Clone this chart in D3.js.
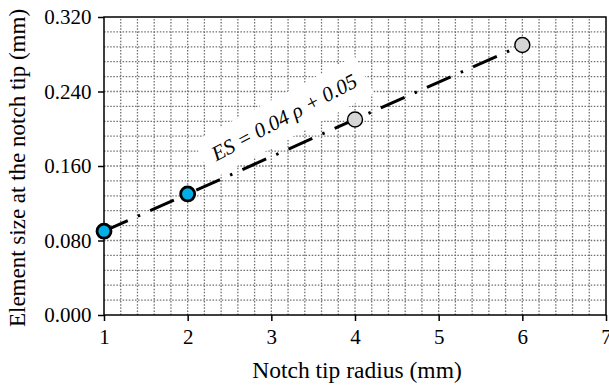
<!DOCTYPE html>
<html>
<head>
<meta charset="utf-8">
<script src="https://cdn.jsdelivr.net/npm/d3@7"></script>
<style>
  body { margin: 0; background: #fff; }
  svg { display: block; font-family: "Liberation Serif", "Times New Roman", serif; }
  svg text { font-family: "Liberation Serif", "Times New Roman", serif; }
</style>
</head>
<body>
<div id="chart"></div>
<script>
// data
const radius = [1, 2, 4, 6];
const elemSize = [0.090, 0.130, 0.210, 0.290];
const pointKind = ['blue', 'blue', 'grey', 'grey'];
const xTicks = [1, 2, 3, 4, 5, 6, 7];
const yTicks = [0, 0.08, 0.16, 0.24, 0.32];
const fitSlope = 0.04, fitIntercept = 0.05;
const fitRange = [1, 6];

const width = 609, height = 388;
const margin = { top: 17, right: 3, bottom: 73, left: 104 };

const svg = d3.select('#chart').append('svg')
  .attr('width', width)
  .attr('height', height);

const x = d3.scaleLinear().domain([1, 7]).range([margin.left, width - margin.right]);
const y = d3.scaleLinear().domain([0, 0.32]).range([height - margin.bottom, margin.top]);

// dotted grid, 5 divisions per major tick
const grid = svg.append('g')
  .attr('stroke', '#707070')
  .attr('stroke-width', 1.3)
  .attr('stroke-dasharray', '1.5,1.6');

grid.selectAll('line.vx')
  .data(d3.range(1, 35).map(i => 1 + i * 0.2).filter(v => v < 6.99))
  .enter().append('line')
  .attr('x1', d => x(d)).attr('x2', d => x(d))
  .attr('y1', y(0)).attr('y2', y(0.32));

grid.selectAll('line.hy')
  .data(d3.range(1, 20).map(i => i * 0.016))
  .enter().append('line')
  .attr('x1', x(1)).attr('x2', x(7))
  .attr('y1', d => y(d)).attr('y2', d => y(d));

// equation label with white box
const labelX = 284, labelY = 117, labelAngle = -28;
const label = svg.append('g')
  .attr('transform', `translate(${labelX},${labelY}) rotate(${labelAngle})`);
const txt = label.append('text')
  .attr('text-anchor', 'middle')
  .attr('dy', '0.35em')
  .style('font-style', 'italic')
  .style('font-size', '21px')
  .text('ES = 0.04 ρ + 0.05');
const bb = txt.node().getBBox();
label.insert('rect', 'text')
  .attr('x', bb.x - 10).attr('y', bb.y - 9)
  .attr('width', bb.width + 20).attr('height', bb.height + 18)
  .attr('fill', '#fff');

// fitted line
svg.append('line')
  .attr('x1', x(fitRange[0])).attr('y1', y(fitSlope * fitRange[0] + fitIntercept))
  .attr('x2', x(fitRange[1])).attr('y2', y(fitSlope * fitRange[1] + fitIntercept))
  .attr('stroke', '#000')
  .attr('stroke-width', 3)
  .attr('stroke-dasharray', '26,11,2.5,11');

// frame
svg.append('rect')
  .attr('x', x(1)).attr('y', y(0.32))
  .attr('width', x(7) - x(1)).attr('height', y(0) - y(0.32))
  .attr('fill', 'none')
  .attr('stroke', '#000')
  .attr('stroke-width', 1.5);

// axes
const xAxis = svg.append('g')
  .attr('transform', `translate(0,${y(0)})`)
  .call(d3.axisBottom(x).tickValues(xTicks).tickFormat(d3.format('d')).tickSize(6).tickSizeOuter(0));
const yAxis = svg.append('g')
  .attr('transform', `translate(${x(1)},0)`)
  .call(d3.axisLeft(y).tickValues(yTicks).tickFormat(d3.format('.3f')).tickSize(6).tickSizeOuter(0));

[xAxis, yAxis].forEach(a => {
  a.attr('font-family', null).attr('font-size', null);
  a.select('.domain').remove();
  a.selectAll('.tick line').attr('stroke', '#000').attr('stroke-width', 1.5);
  a.selectAll('.tick text')
    .attr('fill', '#000')
    .style('font-size', '21px');
});
xAxis.selectAll('.tick text').attr('y', 14).attr('dy', '0.71em');
yAxis.selectAll('.tick text').attr('x', -12.5);

// points
svg.append('g').selectAll('circle')
  .data(radius.map((r, i) => ({ r, v: elemSize[i], k: pointKind[i] })))
  .enter().append('circle')
  .attr('cx', d => x(d.r))
  .attr('cy', d => y(d.v))
  .attr('r', d => d.k === 'blue' ? 7 : 7.5)
  .attr('fill', d => d.k === 'blue' ? '#00aee8' : '#d6d6d6')
  .attr('stroke', '#000')
  .attr('stroke-width', d => d.k === 'blue' ? 2.8 : 1.4);

// axis titles
svg.append('text')
  .attr('x', 357)
  .attr('y', 378)
  .attr('text-anchor', 'middle')
  .style('font-size', '23.5px')
  .text('Notch tip radius (mm)');

svg.append('text')
  .attr('transform', `translate(25,168) rotate(-90)`)
  .attr('text-anchor', 'middle')
  .style('font-size', '23px')
  .text('Element size at the notch tip (mm)');
</script>
</body>
</html>
